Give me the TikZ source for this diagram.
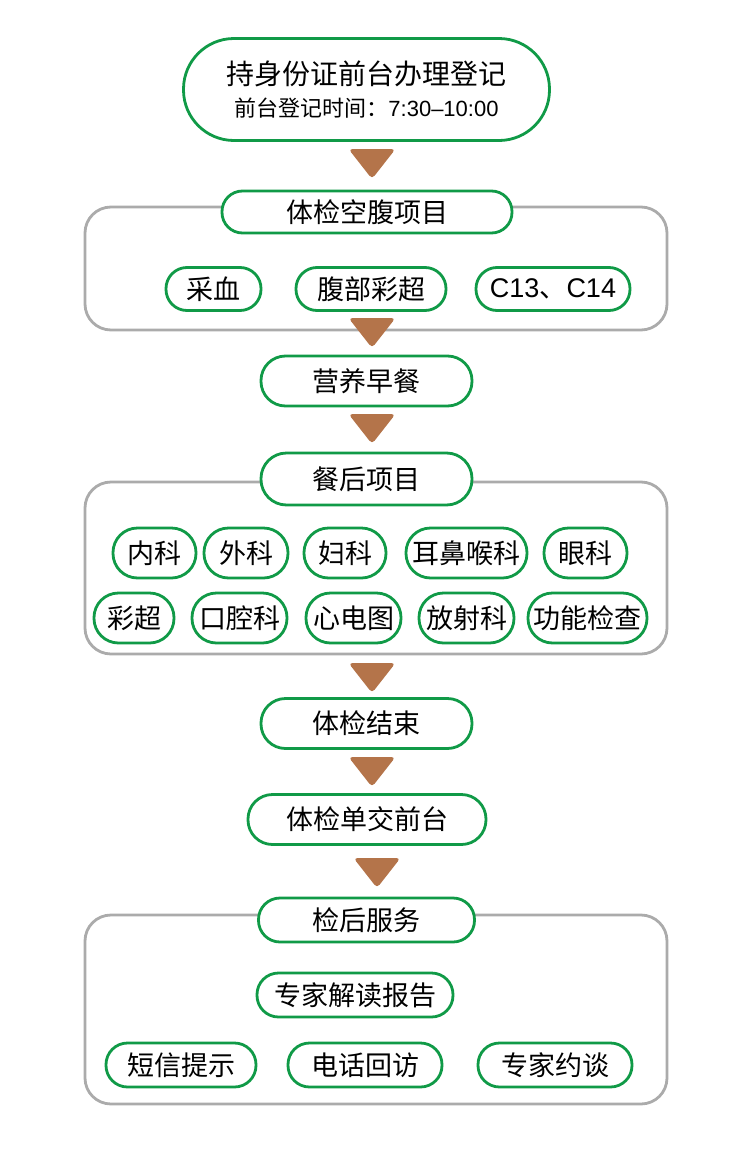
\documentclass[tikz,border=0pt]{standalone}
\usepackage{fontspec}
\setmainfont{Noto Sans CJK SC}
\newfontfamily\latinfont{Liberation Sans}
\usepackage{tikz}
\definecolor{pillgreen}{HTML}{109A47}
\definecolor{boxgray}{HTML}{ABABAB}
\definecolor{arrowbrown}{HTML}{B4744A}

\begin{document}
\begin{tikzpicture}[x=1pt,y=-1pt,font=\fontsize{27}{32}\selectfont,
pill/.style n args={2}{rectangle,draw=pillgreen,line width=2.8pt,fill=white,inner sep=0pt,minimum width=#1pt,minimum height=#2pt,rounded corners=#2pt/2-0.5pt},
grpbox/.style={draw=boxgray,line width=2.8pt,rounded corners=26pt},
downtri/.style={fill=arrowbrown,rounded corners=4pt}]
\useasboundingbox (0,0) rectangle (750,1154);
% grey frames
\draw[grpbox] (85,207) rectangle (667,330);
\draw[grpbox] (85,482) rectangle (667,654);
\draw[grpbox] (85,915) rectangle (667,1104);
% brown arrows
\foreach \x/\y in %
{372/149,372/318,372/414,372/663,372/757,377/858} {
   \fill[downtri] (\x-23.5,\y) -- (\x+23.5,\y) -- (\x,\y+30) -- cycle;
}
% main steps
\node[pill={366}{102},align=center] (reg) at (366.5,89.5)
   {\fontsize{28}{32}\selectfont 持身份证前台办理登记\\{\fontsize{22}{24}\selectfont 前台登记时间：{\latinfont 7:30–10:00}}};
\node[pill={290}{42}] (fasthd) at (367,212) {体检空腹项目};
\node[pill={211}{50}] (meal) at (366.5,381) {营养早餐};
\node[pill={211}{52}] (afterhd) at (366.5,479) {餐后项目};
\node[pill={211}{50}] (done) at (366.5,723.5) {体检结束};
\node[pill={238}{50}] (desk) at (367,819.5) {体检单交前台};
\node[pill={216}{44}] (servhd) at (366.5,920) {检后服务};
% fasting items
\foreach \n/\x/\w/\1 in %
{f1/213.5/95/采血,f2/371/150/腹部彩超,f3/553/154/{{\latinfont C13}、{\latinfont C14}}} {
   \node[pill={\w}{43}] (\n) at (\x,289) {\1};
}
% after-meal items
\foreach \n/\x/\w/\1 in %
{a1/154.5/83/内科,a2/246/84/外科,a3/345/82/妇科,a4/466.5/121/耳鼻喉科,a5/585.5/83/眼科} {
   \node[pill={\w}{50}] (\n) at (\x,553) {\1};
}
\foreach \n/\x/\w/\1 in %
{b1/134/80/彩超,b2/239.5/95/口腔科,b3/353.5/95/心电图,b4/466.5/95/放射科,b5/587.5/119/功能检查} {
   \node[pill={\w}{50}] (\n) at (\x,618) {\1};
}
% after-exam services
\node[pill={196}{44}] (s0) at (355,995) {专家解读报告};
\foreach \n/\x/\w/\1 in %
{s1/181/150/短信提示,s2/365/154/电话回访,s3/555/154/专家约谈} {
   \node[pill={\w}{44}] (\n) at (\x,1065) {\1};
}
\end{tikzpicture}
\end{document}
